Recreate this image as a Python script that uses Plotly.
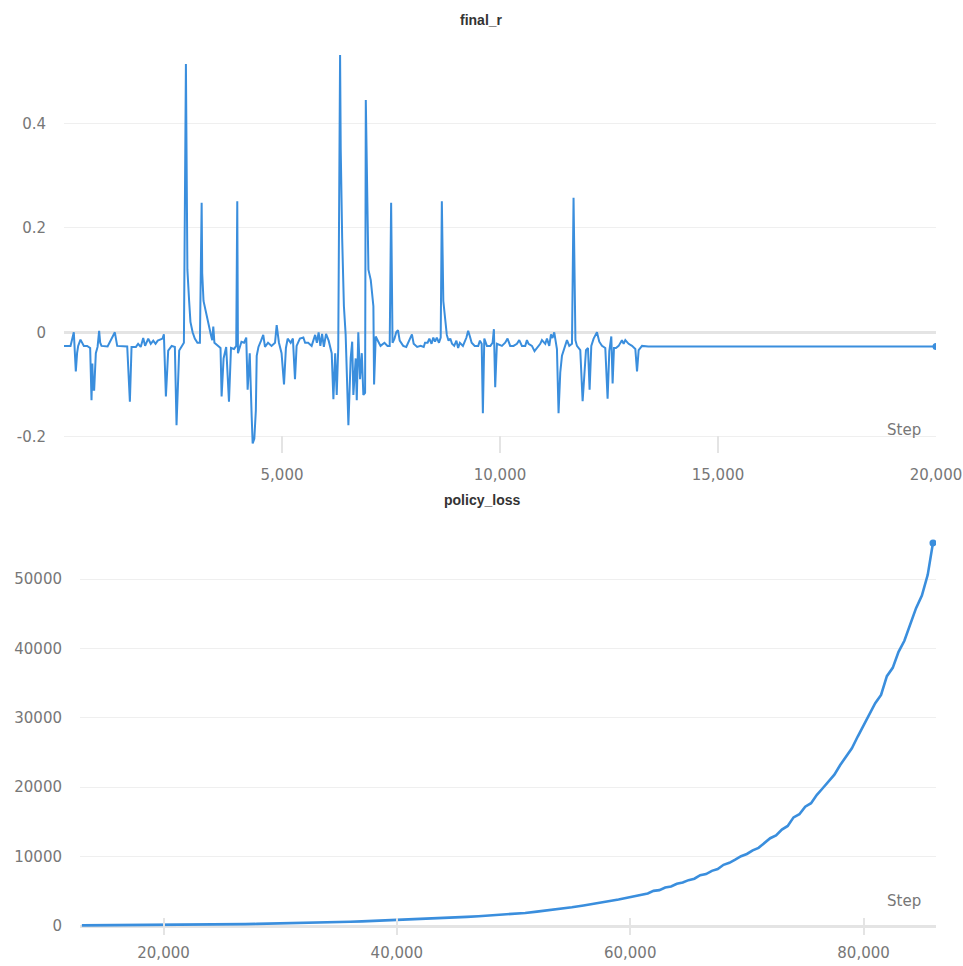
import plotly.graph_objects as go

# ---- final_r: reward per step ----
final_r_step = [
    0, 150, 225, 250, 271, 300, 325, 378, 420, 455, 531, 600, 631, 650, 669, 692, 730, 770,
    806, 830, 860, 1000, 1166, 1200, 1220, 1450, 1511, 1549, 1650, 1700, 1760, 1817, 1860,
    1932, 1990, 2047, 2100, 2150, 2200, 2260, 2291, 2337, 2390, 2470, 2543, 2581, 2642,
    2700, 2750, 2796, 2812, 2830, 2870, 2900, 2950, 3000, 3060, 3117, 3157, 3170, 3200,
    3260, 3320, 3370, 3400, 3424, 3450, 3520, 3590, 3615, 3660, 3720, 3784, 3830, 3900,
    3950, 3974, 3990, 4030, 4070, 4130, 4180, 4212, 4260, 4304, 4327, 4365, 4400, 4420,
    4460, 4520, 4570, 4610, 4680, 4760, 4840, 4878, 4930, 4990, 5046, 5090, 5130, 5200,
    5250, 5298, 5335, 5410, 5490, 5530, 5600, 5680, 5760, 5800, 5840, 5880, 5920, 5960,
    6010, 6070, 6140, 6179, 6220, 6255, 6290, 6332, 6347, 6380, 6420, 6460, 6500, 6523,
    6575, 6610, 6637, 6690, 6715, 6750, 6790, 6830, 6866, 6906, 6922, 6944, 6960, 6982,
    7036, 7096, 7112, 7150, 7210, 7260, 7350, 7420, 7470, 7503, 7535, 7580, 7620, 7660,
    7700, 7780, 7850, 7930, 7980, 8020, 8100, 8180, 8250, 8280, 8340, 8380, 8430, 8470,
    8510, 8550, 8600, 8640, 8666, 8700, 8740, 8780, 8820, 8860, 8900, 8950, 9000, 9040,
    9080, 9150, 9230, 9270, 9310, 9350, 9420, 9500, 9540, 9580, 9607, 9640, 9700, 9780,
    9830, 9860, 9890, 9929, 10044, 10119, 10173, 10234, 10310, 10388, 10441, 10503,
    10579, 10618, 10655, 10732, 10792, 10847, 10923, 10962, 11038, 11077, 11130, 11169,
    11205, 11244, 11267, 11306, 11343, 11382, 11421, 11497, 11536, 11589, 11651, 11687,
    11705, 11730, 11765, 11841, 11895, 11941, 11972, 12018, 12055, 12094, 12147, 12224,
    12277, 12339, 12415, 12468, 12507, 12553, 12583, 12614, 12660, 12721, 12797, 12836,
    12874, 12950, 13028, 13104, 13143, 13180, 13257, 13400, 20000,
]
final_r_value = [
    -0.026, -0.026, 0.0, -0.03, -0.075, -0.04, -0.026, -0.014, -0.02, -0.026, -0.026, -0.03,
    -0.13, -0.06, -0.11, -0.11, -0.04, -0.028, 0.003, -0.02, -0.026, -0.027, 0.0, -0.02,
    -0.026, -0.027, -0.133, -0.028, -0.028, -0.022, -0.028, -0.011, -0.026, -0.012, -0.022,
    -0.016, -0.022, -0.016, -0.014, -0.012, -0.004, -0.123, -0.035, -0.026, -0.028, -0.178,
    -0.035, -0.026, -0.02, 0.514, 0.25, 0.12, 0.06, 0.02, 0.0, -0.012, -0.02, -0.02, 0.248,
    0.113, 0.06, 0.035, 0.01, -0.005, -0.015, 0.011, -0.02, -0.026, -0.03, -0.123, -0.05,
    -0.028, -0.133, -0.03, -0.032, -0.026, 0.251, -0.04, -0.03, -0.018, -0.02, -0.01, -0.11,
    -0.04, -0.16, -0.213, -0.204, -0.15, -0.045, -0.028, -0.016, -0.005, -0.028, -0.02,
    -0.026, -0.02, 0.014, -0.02, -0.04, -0.1, -0.03, -0.012, -0.02, -0.012, -0.09, -0.026,
    -0.012, -0.01, -0.02, -0.02, -0.026, -0.005, -0.02, 0.0, -0.026, -0.003, -0.028,
    -0.003, -0.016, -0.04, -0.128, -0.04, -0.12, -0.03, 0.531, 0.35, 0.18, 0.05, -0.005,
    -0.105, -0.178, -0.05, -0.018, -0.12, -0.05, -0.13, 0.0, -0.09, -0.04, -0.12, -0.116,
    0.445, 0.33, 0.23, 0.12, 0.1, 0.05, -0.1, -0.008, -0.018, -0.026, -0.02, -0.026, -0.026,
    0.248, -0.02, -0.012, 0.0, 0.004, -0.016, -0.026, -0.028, -0.012, -0.004, -0.022,
    -0.028, -0.026, -0.028, -0.02, -0.02, -0.012, -0.022, -0.01, -0.018, -0.01, -0.02,
    -0.01, 0.251, 0.06, 0.02, -0.005, -0.016, -0.012, -0.022, -0.026, -0.016, -0.03, -0.02,
    -0.026, -0.01, 0.003, -0.008, -0.02, -0.026, -0.026, -0.016, -0.022, -0.155, -0.012,
    -0.026, -0.026, -0.02, 0.006, -0.105, -0.022, -0.026, -0.02, -0.012, -0.026, -0.026,
    -0.022, -0.015, -0.026, -0.026, -0.015, -0.022, -0.026, -0.036, -0.03, -0.022, -0.015,
    -0.022, -0.012, -0.026, -0.004, -0.011, 0.0, -0.015, -0.032, -0.155, -0.077, -0.045,
    -0.026, -0.015, -0.026, -0.022, 0.258, 0.08, -0.015, -0.026, -0.034, -0.132, -0.07,
    -0.034, -0.03, -0.11, -0.026, -0.012, 0.0, -0.018, -0.026, -0.03, -0.127, -0.036,
    -0.008, -0.098, -0.03, -0.03, -0.026, -0.015, -0.022, -0.015, -0.022, -0.026, -0.032,
    -0.075, -0.034, -0.026, -0.027, -0.027,
]

# ---- policy_loss ----
policy_loss_step = [
    13000, 14000, 15000, 16000, 17000, 18000, 19000, 20000, 21000, 22000, 23000, 24000,
    25000, 26000, 27000, 28000, 29000, 30000, 31000, 32000, 33000, 34000, 35000, 36000,
    37000, 38000, 39000, 40000, 41000, 42000, 43000, 44000, 45000, 46000, 47000, 48000,
    49000, 50000, 51000, 52000, 53000, 54000, 55000, 56000, 57000, 58000, 59000, 60000,
    60500, 61000, 61500, 62000, 62500, 63000, 63500, 64000, 64500, 65000, 65500, 66000,
    66500, 67000, 67500, 68000, 68500, 69000, 69500, 70000, 70500, 71000, 71500, 72000,
    72500, 73000, 73500, 74000, 74500, 75000, 75500, 76000, 76500, 77000, 77500, 78000,
    78500, 79000, 79500, 80000, 80500, 81000, 81500, 82000, 82500, 83000, 83500, 84000,
    84500, 85000, 85500, 85950,
]
policy_loss_value = [
    90, 96, 105, 112, 120, 131, 140, 152, 165, 180, 197, 214, 232, 251, 276, 302, 330, 362,
    395, 432, 468, 512, 561, 612, 668, 731, 795, 862, 921, 996, 1062, 1148, 1226, 1318,
    1402, 1515, 1610, 1735, 1880, 2068, 2240, 2465, 2690, 2950, 3190, 3520, 3810, 4190,
    4320, 4580, 4690, 5060, 5170, 5540, 5700, 6080, 6260, 6610, 6820, 7320, 7480, 7950,
    8200, 8820, 9110, 9560, 10050, 10380, 10900, 11260, 11950, 12650, 13050, 13900, 14420,
    15650, 16100, 17200, 17700, 18900, 19850, 20900, 21800, 23200, 24500, 25600, 27300,
    28900, 30600, 32100, 33300, 36000, 37200, 39500, 41100, 43500, 45800, 47600, 50600,
    55200,
]

top_x_ticks = [5000, 10000, 15000, 20000]
top_y_ticks = [-0.2, 0, 0.2, 0.4]
top_y_labels = ["-0.2", "0", "0.2", "0.4"]
bottom_x_ticks = [20000, 40000, 60000, 80000]
bottom_y_ticks = [0, 10000, 20000, 30000, 40000, 50000]

W, H = 963, 966
LINE = "#3a8edd"
FONT = "DejaVu Sans"
GRID = "#efefef"
TICKFONT = dict(family=FONT, size=15, color="#777777")


def px_x(v):
    return v / W


def px_y(v):
    return 1 - v / H


fig = go.Figure()

fig.add_trace(go.Scatter(
    x=final_r_step, y=final_r_value, mode="lines",
    line=dict(color=LINE, width=2), xaxis="x", yaxis="y", showlegend=False,
))
fig.add_trace(go.Scatter(
    x=final_r_step[-1:], y=final_r_value[-1:], mode="markers",
    marker=dict(color=LINE, size=7), xaxis="x", yaxis="y", showlegend=False,
))
fig.add_trace(go.Scatter(
    x=policy_loss_step, y=policy_loss_value, mode="lines",
    line=dict(color=LINE, width=2.6), xaxis="x2", yaxis="y2", showlegend=False,
))
fig.add_trace(go.Scatter(
    x=policy_loss_step[-1:], y=policy_loss_value[-1:], mode="markers",
    marker=dict(color=LINE, size=7), xaxis="x2", yaxis="y2", showlegend=False,
))

xcommon = dict(
    showgrid=False, zeroline=False, showline=False, automargin=False,
    ticks="inside", ticklen=17, tickwidth=1.5, tickcolor="#e4e4e4",
    tickfont=TICKFONT, tickformat=",d",
)
ycommon = dict(
    showgrid=True, gridcolor=GRID, gridwidth=1, automargin=False,
    zeroline=True, zerolinecolor="#e4e4e4", zerolinewidth=2.5,
    showline=False, ticks="", tickfont=TICKFONT, ticklabelstandoff=17,
)

fig.update_layout(
    width=W, height=H,
    margin=dict(l=0, r=0, t=0, b=0),
    paper_bgcolor="white", plot_bgcolor="white",
    xaxis=dict(domain=[px_x(64), px_x(936)], range=[0, 20000], anchor="y",
               tickvals=top_x_ticks, ticklabelstandoff=11, **xcommon),
    yaxis=dict(domain=[px_y(453), px_y(52)], range=[-0.2312, 0.537], anchor="x",
               tickvals=top_y_ticks, ticktext=top_y_labels, **ycommon),
    xaxis2=dict(domain=[px_x(80), px_x(936)], range=[12840, 86210], anchor="y2",
                tickvals=bottom_x_ticks, ticklabelstandoff=7, **xcommon),
    yaxis2=dict(domain=[px_y(935), px_y(535)], range=[-1297, 56340], anchor="x2",
                tickvals=bottom_y_ticks, tickformat="d", **ycommon),
    annotations=[
        dict(text="<b>final_r</b>", x=0.5, y=px_y(10), xref="paper", yref="paper",
             showarrow=False, font=dict(family="Liberation Sans", size=14, color="#333333")),
        dict(text="<b>policy_loss</b>", x=0.5, y=px_y(500), xref="paper", yref="paper",
             showarrow=False, font=dict(family="Liberation Sans", size=14, color="#333333")),
        dict(text="Step", x=px_x(923), y=px_y(430), xref="paper", yref="paper",
             xanchor="right", showarrow=False, font=dict(family=FONT, size=15, color="#777777")),
        dict(text="Step", x=px_x(923), y=px_y(912), xref="paper", yref="paper",
             xanchor="right", showarrow=False, font=dict(family=FONT, size=15, color="#777777")),
    ],
)

fig.write_html("out.html")
